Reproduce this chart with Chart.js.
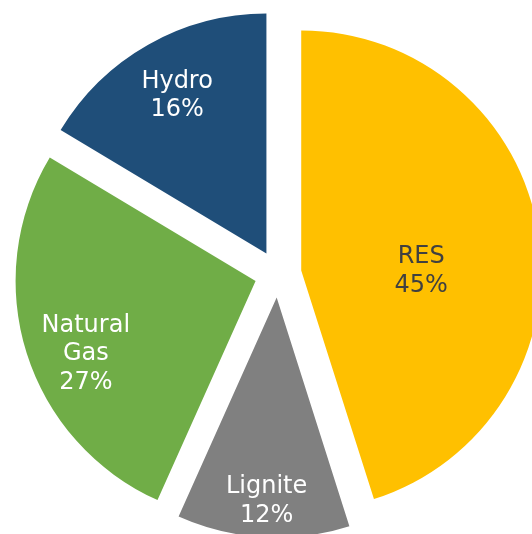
<!DOCTYPE html>
<html>
<head>
<meta charset="utf-8">
<script src="https://cdn.jsdelivr.net/npm/chart.js@4"></script>
<style>
    body { margin: 0; background: #fff; }
</style>
</head>
<body>
<canvas id="mix-chart" width="532" height="534"></canvas>
<script>
// energy mix, shares in percent
const sources = ['RES', 'Lignite', 'Natural Gas', 'Hydro'];
const shares = [45.1, 11.6, 26.9, 16.4];
const labelLines = [['RES'], ['Lignite'], ['Natural', 'Gas'], ['Hydro']];
const sliceColors = ['#FFC000', '#808080', '#70AD47', '#1F4E79'];
const labelColors = ['#404040', '#ffffff', '#ffffff', '#ffffff'];

const PIE_RADIUS = 240;
const EXPLODE = 23.5; // how far each slice is pulled out of the centre

// where the label sits: fraction of radius along the slice, plus a small angle nudge (deg)
const labelSpots = [
    { k: 0.50, nudge: 9.3 },
    { k: 0.85, nudge: -0.4 },
    { k: 0.77, nudge: -5.8 },
    { k: 0.755, nudge: 0 }
];

const explodedPie = {
    id: 'explodedPie',
    beforeDatasetsDraw(chart) {
        // pull every slice out along its middle angle
        const area = chart.chartArea;
        const cx = (area.left + area.right) / 2;
        const cy = (area.top + area.bottom) / 2;
        chart.getDatasetMeta(0).data.forEach(arc => {
            const mid = (arc.startAngle + arc.endAngle) / 2;
            arc.x = cx + Math.cos(mid) * EXPLODE;
            arc.y = cy + Math.sin(mid) * EXPLODE;
        });
    },
    afterDatasetsDraw(chart) {
        const ctx = chart.ctx;
        const arcs = chart.getDatasetMeta(0).data;
        ctx.save();
        ctx.font = '24px "DejaVu Sans", Verdana, sans-serif';
        ctx.textAlign = 'center';
        ctx.textBaseline = 'middle';
        arcs.forEach((arc, i) => {
            const spot = labelSpots[i];
            const mid = (arc.startAngle + arc.endAngle) / 2;
            const a = mid + spot.nudge * Math.PI / 180;
            const x = arc.x + Math.cos(a) * arc.outerRadius * spot.k;
            const y = arc.y + Math.sin(a) * arc.outerRadius * spot.k;
            const lines = labelLines[i].concat([Math.round(shares[i]) + '%']);
            const lineH = 28.5;
            const top = y - (lines.length - 1) * lineH / 2;
            ctx.fillStyle = labelColors[i];
            lines.forEach((t, j) => ctx.fillText(t, x, top + j * lineH));
        });
        ctx.restore();
    }
};

var ctx = document.getElementById('mix-chart').getContext('2d');
new Chart(ctx, {
    type: 'pie',
    data: {
        labels: sources,
        datasets: [{
            data: shares,
            backgroundColor: sliceColors,
            borderWidth: 0,
            hoverOffset: 0,
            clip: false
        }]
    },
    options: {
        responsive: false,
        animation: false,
        events: [],
        radius: PIE_RADIUS,
        layout: { padding: { left: 24, top: 14 } },
        plugins: {
            legend: { display: false },
            tooltip: { enabled: false }
        }
    },
    plugins: [explodedPie]
});
</script>
</body>
</html>
